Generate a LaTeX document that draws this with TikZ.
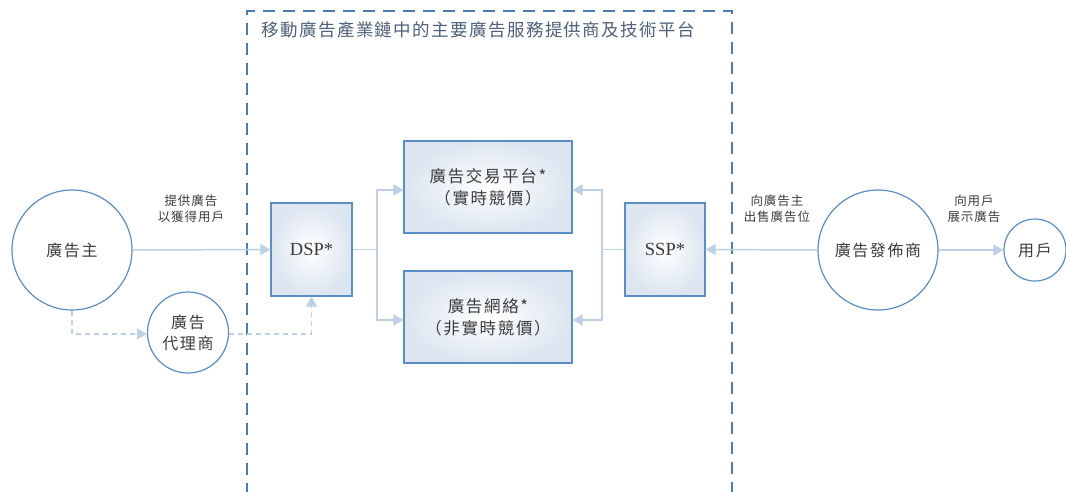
\documentclass[tikz,border=0pt]{standalone}
\usepackage{fontspec}
\setmainfont{Liberation Serif}
\newfontfamily\cjk[LetterSpace=10]{Noto Sans CJK TC}
\newfontfamily\cjkt[LetterSpace=8]{Noto Sans CJK TC}
\newfontfamily\cjks[LetterSpace=8]{Noto Sans CJK TC}
\usetikzlibrary{arrows.meta}
\definecolor{edgeblue}{HTML}{5B8EC4}
\definecolor{lineblue}{HTML}{BDD0E6}
\definecolor{frameblue}{HTML}{4A7DB3}
\definecolor{txt}{HTML}{3C3C3C}
\definecolor{ttl}{HTML}{4E6178}
\definecolor{shadeblue}{HTML}{DCE5F0}
\begin{document}
\begin{tikzpicture}[x=1pt,y=-1pt,
  ent/.style={circle, draw=edgeblue, line width=1.2pt, fill=white, text=txt, inner sep=0pt, align=center, font=\cjk\fontsize{16}{21}\selectfont},
  box/.style={rectangle, draw=edgeblue, line width=1.2pt, inner color=white, outer color=shadeblue, text=txt, align=center, inner sep=0pt},
  cjkbox/.style={box, font=\cjk\fontsize{16.5}{22}\selectfont},
  latbox/.style={box, font=\fontsize{18.5}{20}\selectfont},
  conn/.style={draw=lineblue, line width=1.5pt},
  arr/.style={conn, -{Triangle[length=10pt,width=11pt]}, color=lineblue},
  dashline/.style={dash pattern=on 5pt off 4pt, line width=1.2pt},
  lbl/.style={text=txt, align=center, font=\cjks\fontsize{12.5}{16}\selectfont}
]
\useasboundingbox (0,0) rectangle (1066,491);
% frame
\draw[frameblue, dash pattern=on 12pt off 8pt, line width=1.2pt] (247,495) -- (247,11) -- (732,11) -- (732,495);
\node[anchor=west, text=ttl, font=\cjkt\fontsize{17.5}{20}\selectfont] (title) at (258,30) {移動廣告產業鏈中的主要廣告服務提供商及技術平台};

% nodes
\node[ent, minimum size=120pt] (adv) at (72,250) {廣告主};
\node[ent, minimum size=81pt] (ag) at (188,332.5) {廣告\\代理商};
\node[latbox, minimum width=81pt, minimum height=93pt] (dsp) at (311.5,249.5) {DSP*};
\node[cjkbox, minimum width=168pt, minimum height=92pt] (ex) at (488,187) {廣告交易平台*\\（實時競價）};
\node[cjkbox, minimum width=168pt, minimum height=92pt] (net) at (488,317) {廣告網絡*\\（非實時競價）};
\node[latbox, minimum width=80pt, minimum height=93pt] (ssp) at (665,249.5) {SSP*};
\node[ent, minimum size=120pt] (pub) at (878,250) {廣告發佈商};
\node[ent, minimum size=62pt] (user) at (1035,250) {用戶};

% labels
\node[lbl] (l1) at (191,208.5) {提供廣告\\以獲得用戶};
\node[lbl] (l2) at (777,209) {向廣告主\\出售廣告位};
\node[lbl] (l3) at (974,209) {向用戶\\展示廣告};

% connectors
\coordinate (jl) at (377,249.5);
\coordinate (jr) at (602,249.5);
\draw[arr] (adv.east) -- (dsp.west);
\draw[conn] (dsp.east) -- (jl);
\draw[arr] (jl) |- ([yshift=-3pt]ex.west);
\draw[arr] (jl) |- ([yshift=-3pt]net.west);
\draw[conn] (ssp.west) -- (jr);
\draw[arr] (jr) |- ([yshift=-3pt]ex.east);
\draw[arr] (jr) |- ([yshift=-3pt]net.east);
\draw[arr] (pub.west) -- (ssp.east);
\draw[arr] (pub.east) -- (user.west);
\draw[arr, dashline] (adv.south) |- ([yshift=-1.5pt]ag.west);
\draw[arr, dashline] ([yshift=-1.5pt]ag.east) -| (dsp.south);
\end{tikzpicture}
\end{document}
